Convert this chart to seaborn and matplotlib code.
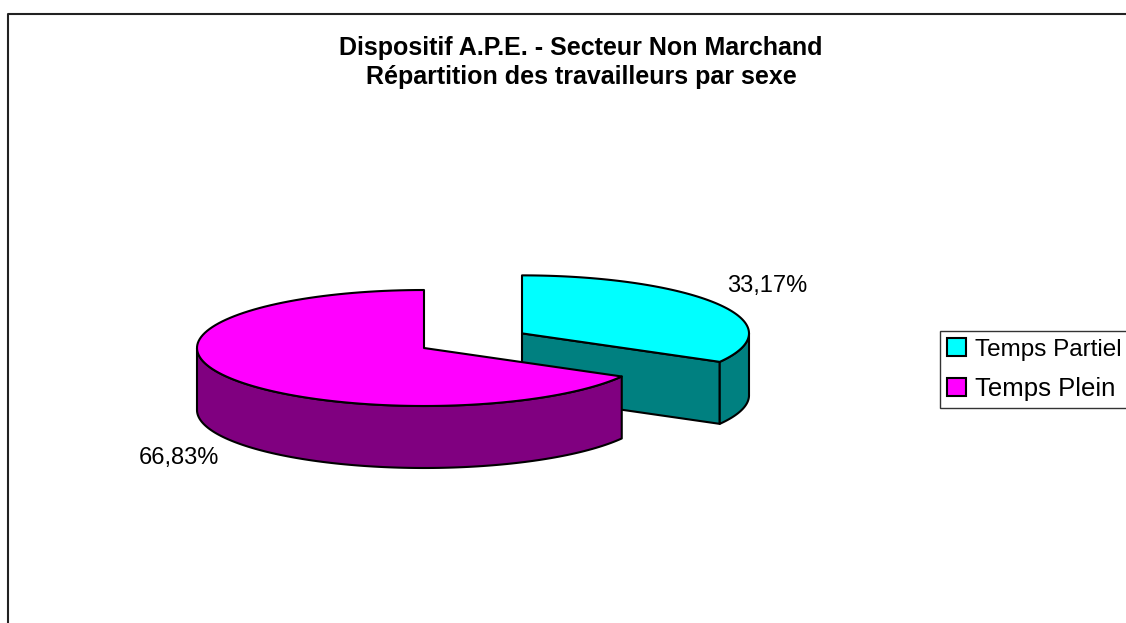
import numpy as np
import matplotlib
matplotlib.use("Agg")
import matplotlib.pyplot as plt
from matplotlib.patches import Polygon
import seaborn as sns

# ── Data ──────────────────────────────────────────────────────────────────────
categories = ["Temps Partiel", "Temps Plein"]
shares = [33.17, 66.83]          # percent
explode = [0.5, 0.0]
top_colors = ["#00FFFF", "#FF00FF"]
side_colors = ["#008080", "#800080"]
title_lines = ["Dispositif A.P.E. - Secteur Non Marchand",
               "Répartition des travailleurs par sexe"]

# ── Layout (pixel space) ──────────────────────────────────────────────────────
W, H = 1126, 623
CX, CY = 424, 348      # pie centre
RX, RY = 227, 58       # ellipse radii of the top face
DEPTH = 62             # height of the cylinder
LW = 1.5

sns.set_theme(style="white")
plt.rcParams["font.family"] = ["Liberation Sans", "DejaVu Sans"]
plt.rcParams["text.color"] = "black"

fig = plt.figure(figsize=(W / 100, H / 100), dpi=100)
ax = fig.add_axes([0, 0, 1, 1])
ax.set_xlim(0, W)
ax.set_ylim(H, 0)
ax.axis("off")


def rim(cx, cy, phi, r=1.0, dz=0.0):
    """Point on ellipse, phi in degrees clockwise from 12 o'clock."""
    t = np.radians(phi)
    return cx + RX * r * np.sin(t), cy - RY * r * np.cos(t) + dz


def arc(cx, cy, a, b, dz=0.0, n=120):
    ph = np.linspace(a, b, n)
    x, y = rim(cx, cy, ph, dz=dz)
    return np.column_stack([x, y])


# build slices
slices = []
start = 0.0
for name, s, e, tc, sc in zip(categories, shares, explode, top_colors, side_colors):
    end = start + s * 3.6
    mid = (start + end) / 2
    cx, cy = rim(CX, CY, mid, r=e)
    slices.append(dict(name=name, share=s, a=start, b=end, mid=mid,
                       cx=cx, cy=cy, top=tc, side=sc))
    start = end

# back slices first
for sl in sorted(slices, key=lambda d: d["cy"]):
    cx, cy, a, b = sl["cx"], sl["cy"], sl["a"], sl["b"]
    kw = dict(edgecolor="black", linewidth=LW, joinstyle="round")

    # radial cut faces
    for phi, vis in ((a, np.sin(np.radians(a)) < -1e-6),
                     (b, np.sin(np.radians(b)) > 1e-6)):
        if vis:
            px, py = rim(cx, cy, phi)
            face = [(cx, cy), (px, py), (px, py + DEPTH), (cx, cy + DEPTH)]
            ax.add_patch(Polygon(face, closed=True, facecolor=sl["side"], **kw))

    # outer wall (front half only)
    lo, hi = max(a, 90), min(b, 270)
    if hi > lo:
        top_arc = arc(cx, cy, lo, hi)
        bot_arc = arc(cx, cy, lo, hi, dz=DEPTH)[::-1]
        ax.add_patch(Polygon(np.vstack([top_arc, bot_arc]), closed=True,
                             facecolor=sl["side"], **kw))

    # top face
    pts = np.vstack([[cx, cy], arc(cx, cy, a, b)])
    ax.add_patch(Polygon(pts, closed=True, facecolor=sl["top"], **kw))

# percentage labels
for sl in slices:
    lx, ly = rim(sl["cx"], sl["cy"], sl["mid"], r=1.25)
    front = np.cos(np.radians(sl["mid"])) < 0
    txt = f"{sl['share']:.2f}%".replace(".", ",")
    ax.text(lx, ly + (DEPTH if front else 0), txt, fontsize=17,
            ha="center", va="top" if front else "bottom", color="black")

# title
ax.text(581, 55, title_lines[0], fontsize=18, fontweight="bold",
        ha="center", va="baseline", color="black")
ax.text(581, 84, title_lines[1], fontsize=18, fontweight="bold",
        ha="center", va="baseline", color="black")

# chart area border (left + top only, the rest is cropped)
ax.plot([8, 8, W], [H, 14, 14], color="#222222", linewidth=1.5,
        solid_capstyle="butt")

# legend
handles = [plt.Rectangle((0, 0), 1, 1, facecolor=c, edgecolor="black",
                         linewidth=1.5) for c in top_colors]
leg = ax.legend(handles, categories, loc="upper left",
                bbox_to_anchor=(940 / W, 1 - 331 / H), frameon=True,
                fancybox=False, edgecolor="black", prop={"size": 17.5},
                labelcolor="black", handlelength=0.77, handleheight=0.77,
                handletextpad=0.36, borderpad=0.3, labelspacing=0.65,
                borderaxespad=0)
leg.get_frame().set_linewidth(1.0)
leg.get_texts()[1].set_fontsize(18.5)

fig.savefig("out.png", dpi=100)
